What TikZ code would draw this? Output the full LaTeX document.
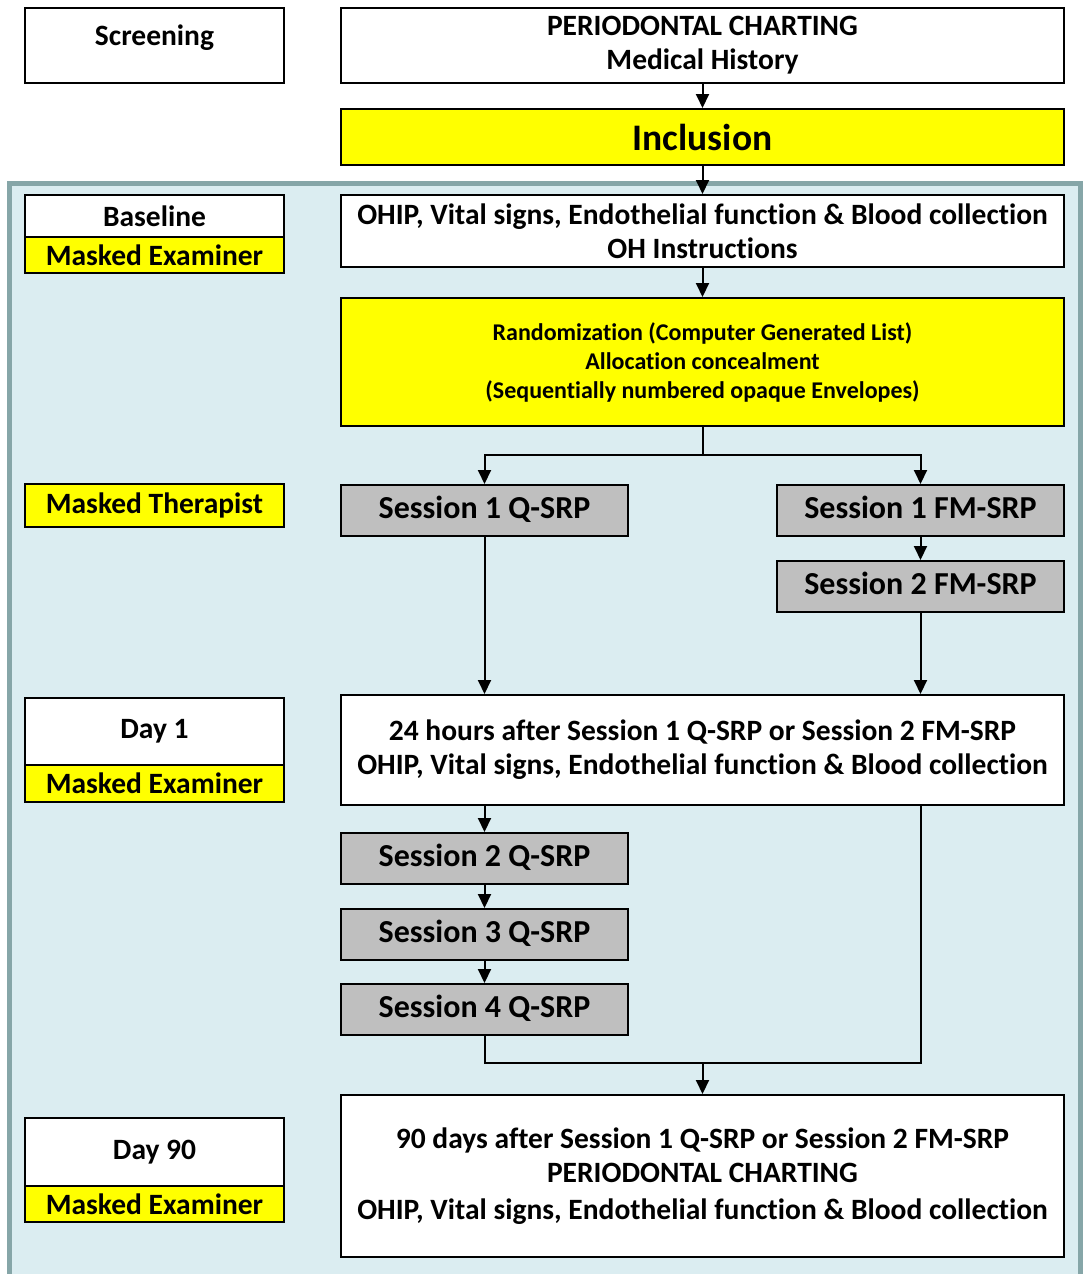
\documentclass[tikz,border=0pt]{standalone}
\usepackage{fontspec}
\setmainfont{Carlito}[Ligatures={NoCommon}]
\usetikzlibrary{arrows.meta}
\usetikzlibrary{calc}
\usetikzlibrary{math}

\definecolor{panelblue}{RGB}{219,237,241}
\definecolor{panelrim}{RGB}{134,166,168}
\definecolor{boxyellow}{RGB}{255,255,0}
\definecolor{boxgray}{RGB}{191,191,191}

\tikzset{
  box/.style={draw=black, line width=2pt, inner sep=0pt, align=center,
    anchor=north west, font=\bfseries\fontsize{29.5}{34}\selectfont},
  size/.style 2 args={minimum width=#1pt, minimum height=#2pt},
  whitebox/.style={box, fill=white},
  yellowbox/.style={box, fill=boxyellow},
  sessbox/.style={box, fill=boxgray, text depth=7pt, font=\bfseries\fontsize{32}{34}\selectfont},
  flow/.style={line width=2pt, -{Triangle[width=13pt,length=14pt]}},
  link/.style={line width=2pt},
}

\begin{document}
\begin{tikzpicture}[x=1pt, y=-1pt]

  \useasboundingbox (0,0) rectangle (1083,1274);

  \tikzmath{
    \colL  = 24;  % left column
    \colR  = 340; % right column
    \wL    = 259; % width left boxes
    \wR    = 723; % width right boxes
    \wS    = 287; % width session boxes
    \hS    = 51;  % height session boxes
  }

  % study panel
  \draw[panelrim, fill=panelblue, line width=5pt] (9.5,183) rectangle (1080.5,1300);

  % left column: visits and masking
  \node[whitebox, size={\wL}{75}] (screen) at (\colL,7) {\raisebox{20pt}{Screening}};
  \node[whitebox, size={\wL}{42}] (basevis) at (\colL,194) {Baseline};
  \node[yellowbox, size={\wL}{36}] (baseex) at (\colL,236) {Masked Examiner};
  \node[yellowbox, size={\wL}{43}] (therap) at (\colL,483) {Masked Therapist};
  \node[whitebox, size={\wL}{67}] (dayvis) at (\colL,697) {Day 1};
  \node[yellowbox, size={\wL}{37}] (dayex) at (\colL,764) {Masked Examiner};
  \node[whitebox, size={\wL}{68}] (ninetyvis) at (\colL,1117) {Day 90};
  \node[yellowbox, size={\wL}{36}] (ninetyex) at (\colL,1185) {Masked Examiner};

  % right column: procedures
  \node[whitebox, size={\wR}{75}] (chart) at (\colR,7)
    {PERIODONTAL CHARTING\\Medical History};
  \node[yellowbox, size={\wR}{56}, font=\bfseries\fontsize{37.5}{40}\selectfont] (incl) at (\colR,108) {Inclusion};
  \node[whitebox, size={\wR}{72}] (ohip) at (\colR,194)
    {OHIP, Vital signs, Endothelial function \& Blood collection\\OH Instructions};
  \node[yellowbox, size={\wR}{128}, font=\bfseries\fontsize{24}{29}\selectfont] (rand) at (\colR,297)
    {Randomization (Computer Generated List)\\Allocation concealment\\(Sequentially numbered opaque Envelopes)};

  % sessions
  \node[sessbox, size={\wS}{\hS}] (qone) at (\colR,484) {Session 1 Q-SRP};
  \node[sessbox, size={\wS}{\hS}] (fmone) at (776,484) {Session 1 FM-SRP};
  \node[sessbox, size={\wS}{\hS}] (fmtwo) at (776,560) {Session 2 FM-SRP};

  \node[whitebox, size={\wR}{110}] (dayone) at (\colR,694)
    {24 hours after Session 1 Q-SRP or Session 2 FM-SRP\\OHIP, Vital signs, Endothelial function \& Blood collection};

  \node[sessbox, size={\wS}{\hS}] (qtwo) at (\colR,832) {Session 2 Q-SRP};
  \node[sessbox, size={\wS}{\hS}] (qthree) at (\colR,908) {Session 3 Q-SRP};
  \node[sessbox, size={\wS}{\hS}] (qfour) at (\colR,983) {Session 4 Q-SRP};

  \node[whitebox, size={\wR}{162}] (dayninety) at (\colR,1094)
    {90 days after Session 1 Q-SRP or Session 2 FM-SRP\\PERIODONTAL CHARTING\\[3pt]
     OHIP, Vital signs, Endothelial function \& Blood collection};

  % connectors
  \coordinate (split) at ($(rand.south)+(0,28)$);
  \coordinate (join) at ($(dayninety.north)+(0,-31)$);

  \draw[flow] (chart) -- (incl);
  \draw[flow] (incl) -- (ohip);
  \draw[flow] (ohip) -- (rand);
  \draw[link] (rand.south) -- (split);
  \draw[flow] (split) -| (qone.north);
  \draw[flow] (split) -| (fmone.north);
  \draw[flow] (fmone) -- (fmtwo);
  \draw[flow] (qone.south) -- (qone.south |- dayone.north);
  \draw[flow] (fmtwo.south) -- (fmtwo.south |- dayone.north);
  \draw[flow] (qtwo.north |- dayone.south) -- (qtwo.north);
  \draw[flow] (qtwo) -- (qthree);
  \draw[flow] (qthree) -- (qfour);
  \draw[link] (fmtwo.south |- dayone.south) |- (join) -| (qfour.south);
  \draw[flow] (join) -- (dayninety);

\end{tikzpicture}
\end{document}
